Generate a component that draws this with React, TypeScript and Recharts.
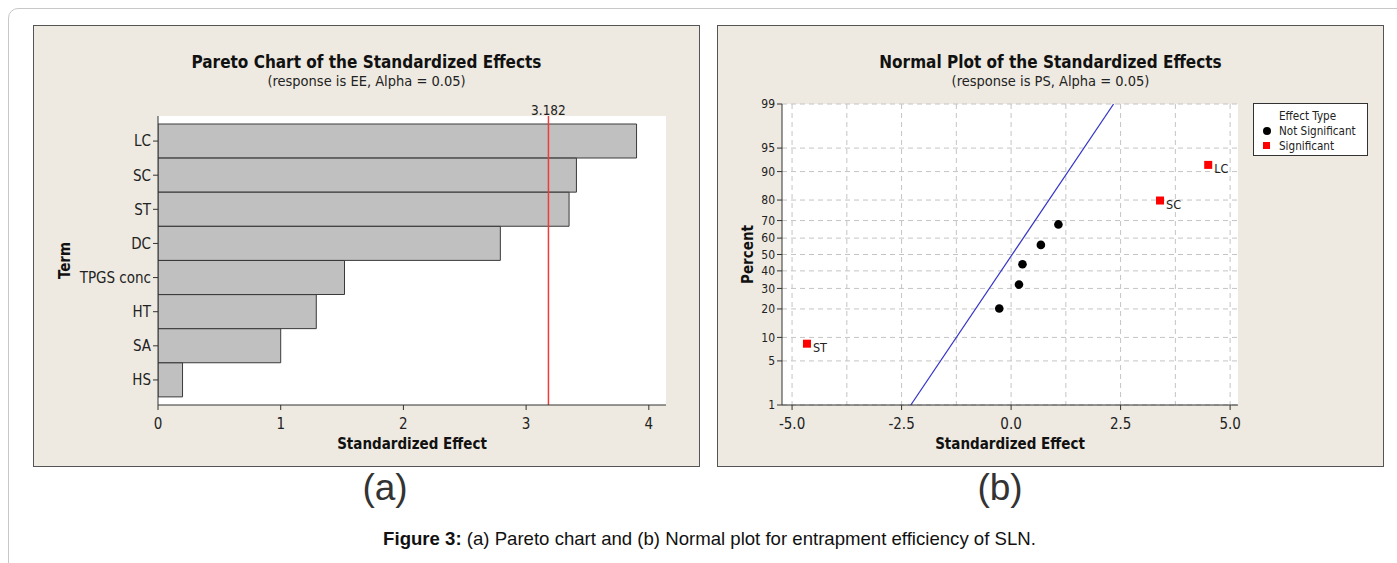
import React from "react";
import {
  BarChart,
  Bar,
  XAxis,
  YAxis,
  CartesianGrid,
  ReferenceLine,
  ComposedChart,
  Scatter,
  Line,
  Legend,
} from "recharts";

// (a) Pareto chart
const terms = ["LC", "SC", "ST", "DC", "TPGS conc", "HT", "SA", "HS"];
const effects = [3.9, 3.41, 3.35, 2.79, 1.52, 1.29, 1.0, 0.2];
const criticalValue = 3.182;
const paretoTicks = [0, 1, 2, 3, 4];

// (b) normal plot
const notSigEffect = [-0.27, 0.18, 0.26, 0.68, 1.08];
const notSigPct = [20.2, 32.1, 44.0, 55.9, 67.9];
const sigTerms = ["ST", "SC", "LC"];
const sigEffect = [-4.66, 3.4, 4.5];
const sigPct = [8.4, 79.8, 91.7];
const fitEffect = [-2.29, 2.34];
const fitPct = [1, 99];
const pctTicks = [1, 5, 10, 20, 30, 40, 50, 60, 70, 80, 90, 95, 99];
const effectTicks = [-5, -2.5, 0, 2.5, 5];
const effectGrid = [-5, -3.75, -2.5, -1.25, 0, 1.25, 2.5, 3.75, 5];

const FONT = "'DejaVu Sans Condensed', 'DejaVu Sans', sans-serif";
const ARIAL = "'Liberation Sans', Arial, sans-serif";
const PANEL_BG = "#EEEAE1";

// inverse normal cdf (Acklam) for the probability axis
function probit(p: number): number {
  const a = [-39.69683028665376, 220.9460984245205, -275.9285104469687, 138.357751867269, -30.66479806614716, 2.506628277459239];
  const b = [-54.47609879822406, 161.5858368580409, -155.6989798598866, 66.80131188771972, -13.28068155288572];
  const c = [-0.007784894002430293, -0.3223964580411365, -2.400758277161838, -2.549671010243380, 4.374664141464968, 2.938163982698783];
  const d = [0.007784695709041462, 0.3224671290700398, 2.445134137142996, 3.754408661907416];
  const pl = 0.02425;
  if (p < pl) {
    const q = Math.sqrt(-2 * Math.log(p));
    return (((((c[0] * q + c[1]) * q + c[2]) * q + c[3]) * q + c[4]) * q + c[5]) / ((((d[0] * q + d[1]) * q + d[2]) * q + d[3]) * q + 1);
  }
  if (p > 1 - pl) {
    const q = Math.sqrt(-2 * Math.log(1 - p));
    return -(((((c[0] * q + c[1]) * q + c[2]) * q + c[3]) * q + c[4]) * q + c[5]) / ((((d[0] * q + d[1]) * q + d[2]) * q + d[3]) * q + 1);
  }
  const q = p - 0.5;
  const r = q * q;
  return ((((((a[0] * r + a[1]) * r + a[2]) * r + a[3]) * r + a[4]) * r + a[5]) * q) / (((((b[0] * r + b[1]) * r + b[2]) * r + b[3]) * r + b[4]) * r + 1);
}

const z = (pct: number) => probit(pct / 100);

const paretoData = terms.map((t, i) => ({ term: t, effect: effects[i] }));
const notSigData = notSigEffect.map((x, i) => ({ x, z: z(notSigPct[i]) }));
const sigData = sigEffect.map((x, i) => ({ x, z: z(sigPct[i]), term: sigTerms[i] }));
const fitData = fitEffect.map((x, i) => ({ x, z: z(fitPct[i]) }));
const zTicks = pctTicks.map(z);

const tickStyle = { fontFamily: FONT, fill: "#222" };
const axisTitle = { fontFamily: FONT, fontWeight: 700, fontSize: 15, fill: "#111" };

function PanelTitle({ title, sub }: { title: string; sub: string }) {
  return (
    <>
      <div style={{ position: "absolute", left: 0, right: 0, top: 26, textAlign: "center", fontFamily: FONT, fontWeight: 700, fontSize: 17, color: "#111" }}>
        {title}
      </div>
      <div style={{ position: "absolute", left: 0, right: 0, top: 47, textAlign: "center", fontFamily: FONT, fontSize: 14.5, color: "#222" }}>
        {sub}
      </div>
    </>
  );
}

const panelStyle: React.CSSProperties = {
  position: "absolute",
  top: 25,
  width: 667,
  height: 442,
  background: PANEL_BG,
  border: "1px solid #555",
  boxSizing: "border-box",
};

const DotShape = (p: any) => <circle cx={p.cx} cy={p.cy} r={4.3} fill="#000" />;
const SquareShape = (p: any) => (
  <g>
    <rect x={p.cx - 4} y={p.cy - 4} width={8} height={8} fill="#F00" />
    <text x={p.cx + 6} y={p.cy + 8} fontSize={12.5} fontFamily={FONT} fill="#222">
      {p.payload.term}
    </text>
  </g>
);

function LegendBox() {
  return (
    <div style={{ width: 113, height: 51, border: "1px solid #333", background: "#fff", fontFamily: FONT, fontSize: 11.6, color: "#222", position: "relative" }}>
      <div style={{ position: "absolute", left: 25, top: 5 }}>Effect Type</div>
      <div style={{ position: "absolute", left: 9, top: 23, width: 8, height: 8, borderRadius: 4, background: "#000" }} />
      <div style={{ position: "absolute", left: 25, top: 20 }}>Not Significant</div>
      <div style={{ position: "absolute", left: 9, top: 38, width: 7, height: 7, background: "#F00" }} />
      <div style={{ position: "absolute", left: 25, top: 35 }}>Significant</div>
    </div>
  );
}

export default function App() {
  return (
    <div style={{ position: "absolute", left: 0, top: 0, width: 1397, height: 563, background: "#fff", overflow: "hidden" }}>
      <div style={{ position: "absolute", left: 8, top: 8, width: 1420, height: 620, border: "1px solid #c8c8c8", borderRadius: 10 }} />

      {/* (a) Pareto chart */}
      <div style={{ ...panelStyle, left: 33 }}>
        <PanelTitle title="Pareto Chart of the Standardized Effects" sub="(response is EE, Alpha = 0.05)" />
        <div style={{ position: "absolute", left: 0, top: 0 }}>
          <BarChart
            width={665}
            height={440}
            layout="vertical"
            data={paretoData}
            margin={{ top: 90, right: 33, bottom: 31, left: 24 }}
            barCategoryGap={0}
          >
            <CartesianGrid horizontal={false} vertical={false} fill="#fff" />
            <XAxis
              type="number"
              dataKey="effect"
              domain={[0, 4.14]}
              ticks={paretoTicks}
              height={30}
              tick={{ ...tickStyle, fontSize: 15 }}
              tickLine={{ stroke: "#333" }}
              tickSize={5}
              tickMargin={8}
              axisLine={{ stroke: "#333" }}
              allowDataOverflow
              label={{ value: "Standardized Effect", position: "bottom", offset: 3, style: axisTitle }}
            />
            <XAxis xAxisId="top" orientation="top" type="number" domain={[0, 4.14]} height={0} tick={false} tickLine={false} axisLine={{ stroke: "#333" }} />
            <YAxis
              type="category"
              dataKey="term"
              width={100}
              interval={0}
              padding={{ top: 8, bottom: 8 }}
              tick={{ ...tickStyle, fontSize: 15 }}
              tickLine={{ stroke: "#333" }}
              tickSize={5}
              axisLine={{ stroke: "#333" }}
              label={{ value: "Term", angle: -90, position: "insideLeft", offset: 7, style: { ...axisTitle, textAnchor: "middle" } }}
            />
            <YAxis yAxisId="right" orientation="right" type="category" dataKey="term" width={0} tick={false} tickLine={false} axisLine={{ stroke: "#333" }} />
            <Bar dataKey="effect" fill="#C0C0C0" stroke="#3a3a3a" strokeWidth={1} isAnimationActive={false} />
            <ReferenceLine
              x={criticalValue}
              stroke="#F23A3A"
              strokeWidth={1.5}
              label={{ value: String(criticalValue), position: "top", offset: 1, style: { fontFamily: FONT, fontSize: 13.5, fill: "#222" } }}
            />
          </BarChart>
        </div>
      </div>

      {/* (b) Normal plot */}
      <div style={{ ...panelStyle, left: 717 }}>
        <PanelTitle title="Normal Plot of the Standardized Effects" sub="(response is PS, Alpha = 0.05)" />
        <div style={{ position: "absolute", left: 0, top: 0 }}>
          <ComposedChart width={665} height={440} margin={{ top: 78, right: 145, bottom: 31, left: 24 }}>
            <CartesianGrid
              fill="#fff"
              stroke="#C4C4C4"
              strokeDasharray="5 4"
              verticalValues={effectGrid}
              horizontalValues={zTicks}
            />
            <XAxis
              type="number"
              dataKey="x"
              domain={[-5.23, 5.18]}
              ticks={effectTicks}
              height={30}
              tickFormatter={(v: number) => v.toFixed(1)}
              tick={{ ...tickStyle, fontSize: 15 }}
              tickLine={{ stroke: "#333" }}
              tickSize={5}
              tickMargin={8}
              axisLine={{ stroke: "#333" }}
              allowDataOverflow
              label={{ value: "Standardized Effect", position: "bottom", offset: 3, style: axisTitle }}
            />
            <XAxis xAxisId="top" orientation="top" type="number" domain={[-5.23, 5.18]} height={0} tick={false} tickLine={false} axisLine={{ stroke: "#333" }} />
            <YAxis
              type="number"
              dataKey="z"
              domain={[zTicks[0], zTicks[zTicks.length - 1]]}
              ticks={zTicks}
              interval={0}
              width={40}
              allowDataOverflow
              tickFormatter={(_v: number, i: number) => String(pctTicks[i])}
              tick={{ ...tickStyle, fontSize: 12 }}
              tickLine={{ stroke: "#333" }}
              tickSize={5}
              axisLine={{ stroke: "#333" }}
              label={{ value: "Percent", angle: -90, position: "insideLeft", offset: 6, style: { ...axisTitle, textAnchor: "middle" } }}
            />
            <YAxis yAxisId="right" orientation="right" type="number" domain={[0, 1]} width={0} tick={false} tickLine={false} axisLine={{ stroke: "#333" }} />
            <Line data={fitData} dataKey="z" stroke="#3434C8" strokeWidth={1.2} dot={false} activeDot={false} isAnimationActive={false} />
            <Scatter data={notSigData} dataKey="z" shape={DotShape} isAnimationActive={false} />
            <Scatter data={sigData} dataKey="z" shape={SquareShape} isAnimationActive={false} />
            <Legend
              layout="vertical"
              align="center"
              verticalAlign="middle"
              content={() => <LegendBox />}
              wrapperStyle={{ position: "absolute", left: 535, top: 77, width: 115 }}
            />
          </ComposedChart>
        </div>
      </div>

      <div style={{ position: "absolute", left: 285, width: 200, top: 467, textAlign: "center", fontFamily: ARIAL, fontSize: 37, color: "#333" }}>
        (a)
      </div>
      <div style={{ position: "absolute", left: 900, width: 200, top: 467, textAlign: "center", fontFamily: ARIAL, fontSize: 37, color: "#333" }}>
        (b)
      </div>
      <div style={{ position: "absolute", left: 0, width: 1419, top: 528, textAlign: "center", fontFamily: ARIAL, fontSize: 18.6, color: "#111" }}>
        <b>Figure 3:</b> (a) Pareto chart and (b) Normal plot for entrapment efficiency of SLN.
      </div>
    </div>
  );
}
